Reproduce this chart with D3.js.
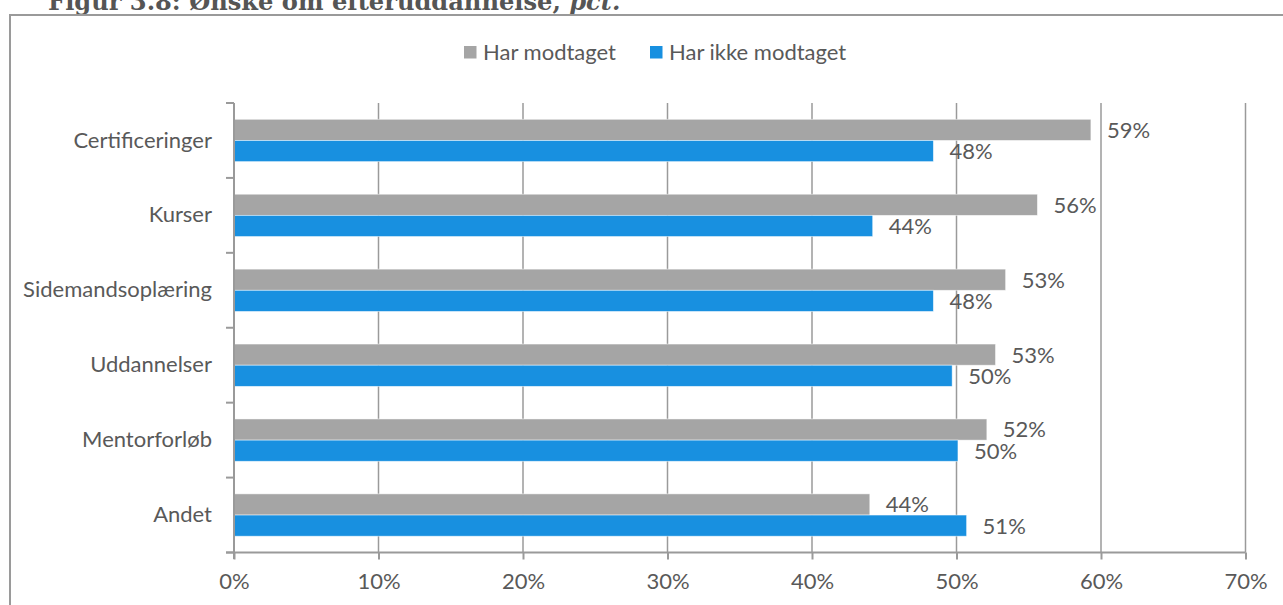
<!DOCTYPE html>
<html>
<head>
<meta charset="utf-8">
<script src="https://cdn.jsdelivr.net/npm/d3@7"></script>
<style>
  html, body { margin: 0; padding: 0; background: #fff; }
  svg { display: block; }
  text { font-family: Lato, "Open Sans", sans-serif; fill: #595959; }
</style>
</head>
<body>
<svg id="chart" width="1283" height="605"></svg>
<script>
// Ønske om efteruddannelse, pct.
const categories = ["Certificeringer", "Kurser", "Sidemandsoplæring", "Uddannelser", "Mentorforløb", "Andet"];
const seriesNames = ["Har modtaget", "Har ikke modtaget"];
const harModtaget = [59.3, 55.6, 53.4, 52.7, 52.1, 44.0];
const harIkkeModtaget = [48.4, 44.2, 48.4, 49.7, 50.1, 50.7];
const xTicks = [0, 10, 20, 30, 40, 50, 60, 70];
const seriesColors = ["#A5A5A5", "#1890E0"];

const rows = categories.map((c, i) => ({
  category: c,
  values: [
    { series: seriesNames[0], value: harModtaget[i] },
    { series: seriesNames[1], value: harIkkeModtaget[i] }
  ]
}));

const svg = d3.select("#chart");
const axisColor = "#9A9A9A";
const fontSize = "22px";

// Title (runs off the top edge)
const title = svg.append("text")
  .attr("x", 48).attr("y", 10)
  .style("font-family", "'DejaVu Serif', 'Liberation Serif', serif")
  .style("font-weight", "bold")
  .style("font-size", "21px")
  .style("fill", "#555");
const titleLead = title.append("tspan").text("Figur 3.8: Ønske om efter");
title.append("tspan").text("uddannelse, ");
title.append("tspan").style("font-style", "italic").text("pct.");
// scale the title so "Figur 3.8: Ønske om efter" spans about 349px
const leadWidth = titleLead.node().getComputedTextLength();
if (leadWidth > 0) title.style("font-size", (21 * 349 / leadWidth).toFixed(2) + "px");

// Frame around chart
svg.append("rect")
  .attr("x", 10).attr("y", 15)
  .attr("width", 1290).attr("height", 620)
  .attr("fill", "none")
  .attr("stroke", axisColor)
  .attr("stroke-width", 2);

const x = d3.scaleLinear().domain([0, 70]).range([234, 1245.5]);
const y0 = d3.scaleBand().domain(categories).range([103, 552.5]).padding(0);
const y1 = d3.scaleBand().domain(seriesNames).range([0, y0.bandwidth()])
  .paddingInner(0).paddingOuter(0.77);
const color = d3.scaleOrdinal().domain(seriesNames).range(seriesColors);

// Vertical gridlines
svg.append("g")
  .selectAll("line")
  .data(xTicks.filter(t => t > 0))
  .join("line")
  .attr("x1", d => x(d)).attr("x2", d => x(d))
  .attr("y1", 103).attr("y2", 552.5)
  .attr("stroke", axisColor).attr("stroke-width", 1.5);

// Bars
const groups = svg.append("g")
  .selectAll("g")
  .data(rows)
  .join("g")
  .attr("transform", d => `translate(0,${y0(d.category)})`);

groups.selectAll("rect")
  .data(d => d.values)
  .join("rect")
  .attr("x", x(0))
  .attr("y", d => y1(d.series))
  .attr("width", d => x(d.value) - x(0))
  .attr("height", y1.bandwidth())
  .attr("fill", d => color(d.series))
  .attr("stroke", "#fff")
  .attr("stroke-opacity", 0.6)
  .attr("stroke-width", 0.8);

// Value labels
groups.selectAll("text")
  .data(d => d.values)
  .join("text")
  .attr("x", d => x(d.value) + 16)
  .attr("y", d => y1(d.series) + y1.bandwidth() / 2)
  .attr("dy", "0.36em")
  .style("font-size", fontSize)
  .text(d => Math.round(d.value) + "%");

// X axis
const xAxis = d3.axisBottom(x)
  .tickValues(xTicks)
  .tickFormat(d => d + "%")
  .tickSize(7)
  .tickPadding(14);
const gx = svg.append("g")
  .attr("transform", "translate(0,552.5)")
  .call(xAxis);
gx.select(".domain").remove();
gx.append("line")
  .attr("x1", 226).attr("x2", x(70))
  .attr("stroke", axisColor).attr("stroke-width", 2);
gx.selectAll(".tick line").attr("stroke", axisColor).attr("stroke-width", 2);
gx.selectAll(".tick text")
  .style("font-size", fontSize)
  .style("font-family", "Lato, 'Open Sans', sans-serif")
  .attr("fill", "#595959");

// Y axis
const yAxis = d3.axisLeft(y0).tickSize(0).tickPadding(22);
const gy = svg.append("g")
  .attr("transform", `translate(${x(0)},0)`)
  .call(yAxis);
gy.select(".domain").remove();
gy.append("line")
  .attr("y1", 103).attr("y2", 559)
  .attr("stroke", axisColor).attr("stroke-width", 2);
gy.selectAll(".boundary")
  .data(categories.map(c => y0(c)).concat([552.5]))
  .join("line")
  .attr("class", "boundary")
  .attr("x1", -8).attr("x2", 0)
  .attr("y1", d => d).attr("y2", d => d)
  .attr("stroke", axisColor).attr("stroke-width", 2);
gy.selectAll(".tick text")
  .style("font-size", fontSize)
  .style("font-family", "Lato, 'Open Sans', sans-serif")
  .attr("fill", "#595959");

// Legend
const legend = svg.append("g").attr("transform", "translate(464,46)");
const legendOffsets = [0, 186];
const li = legend.selectAll("g")
  .data(seriesNames)
  .join("g")
  .attr("transform", (d, i) => `translate(${legendOffsets[i]},0)`);
li.append("rect")
  .attr("width", 12.5).attr("height", 12.5)
  .attr("fill", d => color(d));
li.append("text")
  .attr("x", 19).attr("y", 6.5)
  .attr("dy", "0.36em")
  .style("font-size", fontSize)
  .text(d => d);
</script>
</body>
</html>
